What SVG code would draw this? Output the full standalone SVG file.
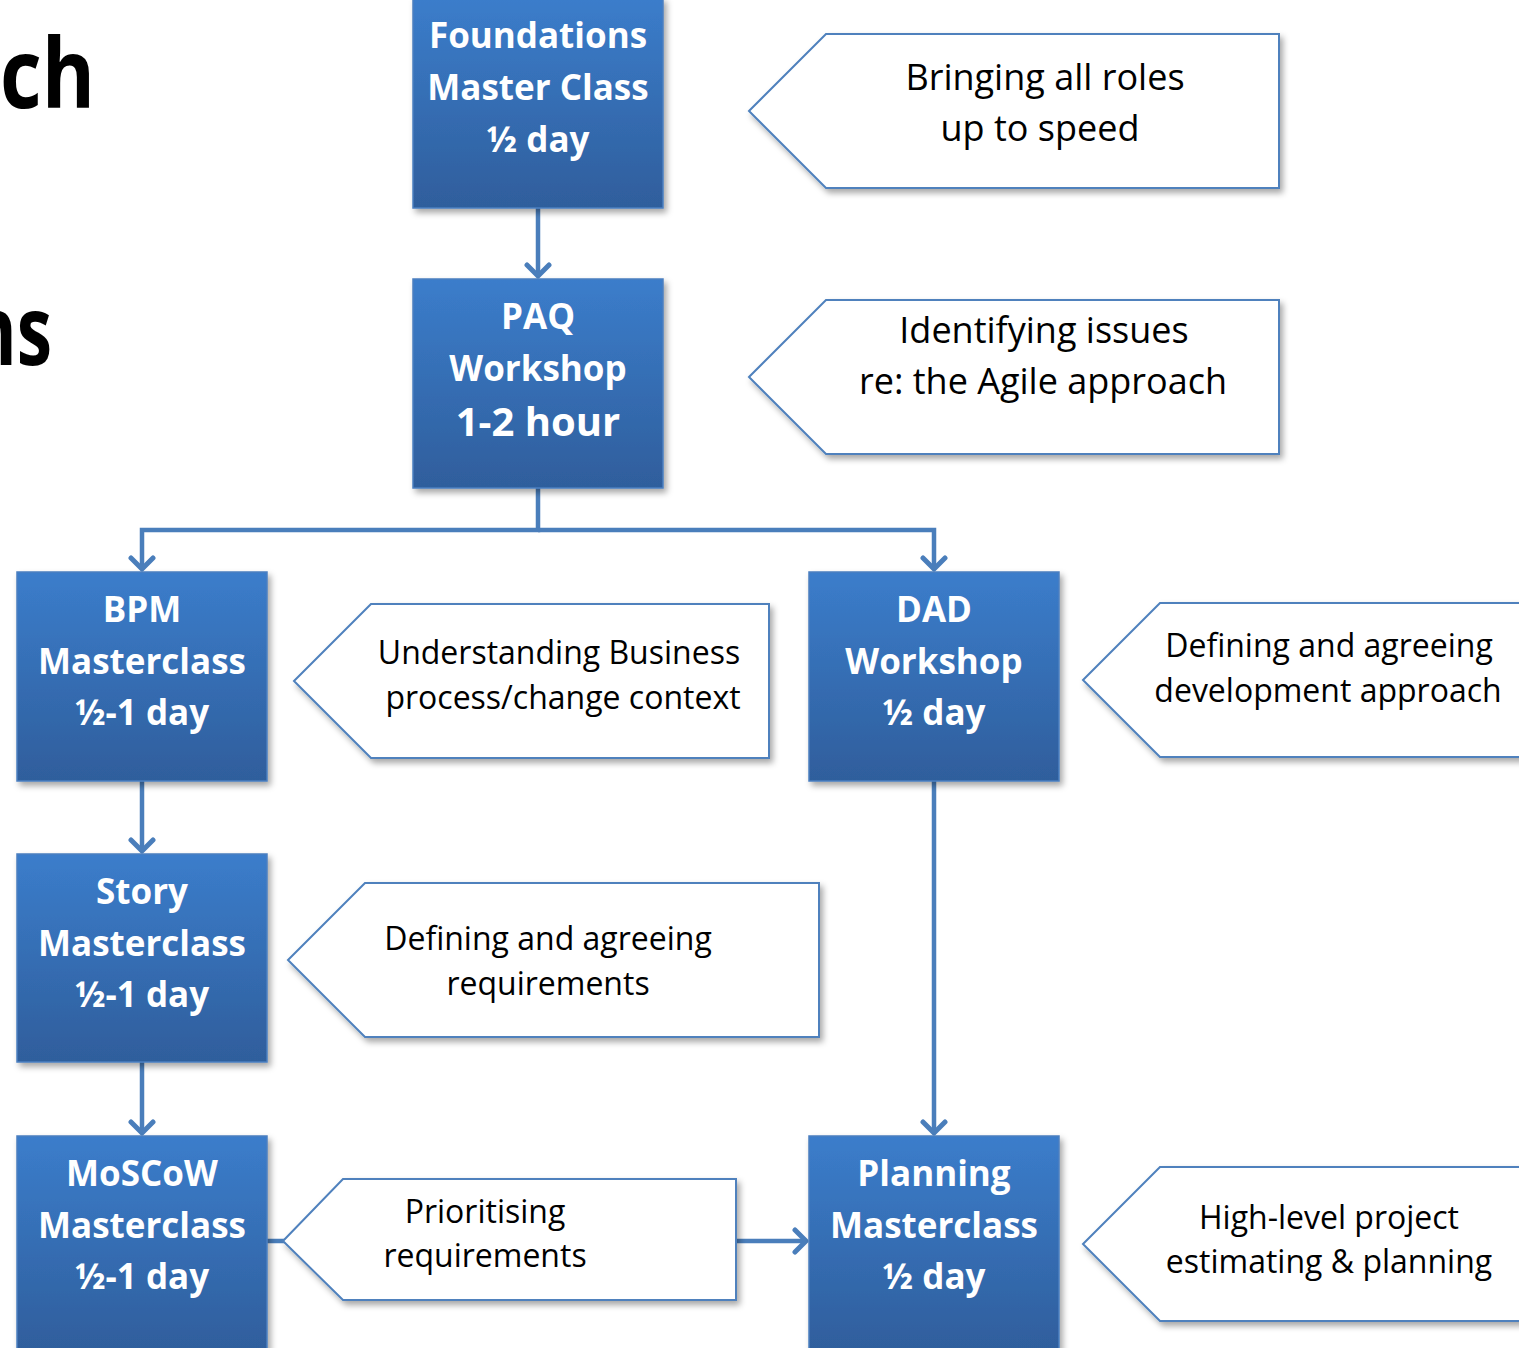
<svg xmlns="http://www.w3.org/2000/svg" width="1519" height="1348" viewBox="0 0 1519 1348">
  <defs>
    <linearGradient id="boxFill" x1="0" y1="0" x2="0" y2="1">
      <stop offset="0" stop-color="#3b7dcb"/>
      <stop offset="1" stop-color="#2f5e9c"/>
    </linearGradient>
    <filter id="shadow" x="-10%" y="-10%" width="125%" height="130%">
      <feDropShadow dx="3" dy="4" stdDeviation="3" flood-color="#000" flood-opacity="0.35"/>
    </filter>
    <marker id="arrow" viewBox="0 0 18 28" refX="14" refY="14" markerWidth="18" markerHeight="28" orient="auto" markerUnits="userSpaceOnUse">
      <path d="M3,3 L14,14 L3,25" fill="none" stroke="#4a7ebb" stroke-width="5" stroke-linecap="round" stroke-linejoin="round"/>
    </marker>
    <style>
      .box { fill: url(#boxFill); stroke: #4b7fc0; stroke-width: 1.5; filter: url(#shadow); }
      .btxt { font-family: "Open Sans", "DejaVu Sans", sans-serif; font-weight: bold; font-size: 35px; fill: #ffffff; text-anchor: middle; }
      .big { font-size: 40px; }
      .call { fill: #ffffff; stroke: #4f81bd; stroke-width: 2; filter: url(#shadow); }
      .ctxt { font-family: "Open Sans", "DejaVu Sans", sans-serif; font-size: 32px; fill: #000000; text-anchor: middle; }
      .ctxt.lg { font-size: 36px; }
      .conn { fill: none; stroke: #4a7ebb; stroke-width: 4.5; }
      .title { font-family: "Open Sans", "Liberation Sans", sans-serif; font-weight: bold; font-size: 96px; fill: #000000; }
    </style>
  </defs>

  <rect width="1519" height="1348" fill="#ffffff"/>

  <!-- heading fragments on the left edge -->
  <text class="title" x="0" y="108" textLength="95" lengthAdjust="spacingAndGlyphs">ch</text>
  <text class="title" x="-30" y="365" textLength="82" lengthAdjust="spacingAndGlyphs">ns</text>

  <!-- connectors -->
  <g id="connectors">
    <path class="conn" d="M538,208 V276" marker-end="url(#arrow)"/>
    <path class="conn" d="M538,488 V530 H142 V569" marker-end="url(#arrow)"/>
    <path class="conn" d="M538,530 H934 V569" marker-end="url(#arrow)"/>
    <path class="conn" d="M142,781 V851" marker-end="url(#arrow)"/>
    <path class="conn" d="M142,1062 V1133" marker-end="url(#arrow)"/>
    <path class="conn" d="M934,781 V1133" marker-end="url(#arrow)"/>
    <path class="conn" d="M267,1241 H806" marker-end="url(#arrow)"/>
  </g>

  <!-- course nodes -->
  <g id="foundations">
    <rect class="box" x="413" y="-2" width="250" height="210"/>
    <text class="btxt" x="538" y="48">Foundations</text>
    <text class="btxt" x="538" y="100">Master Class</text>
    <text class="btxt" x="538" y="152">½ day</text>
  </g>
  <g id="paq">
    <rect class="box" x="413" y="279" width="250" height="209"/>
    <text class="btxt" x="538" y="329">PAQ</text>
    <text class="btxt" x="538" y="381">Workshop</text>
    <text class="btxt big" x="538" y="436">1-2 hour</text>
  </g>
  <g id="bpm">
    <rect class="box" x="17" y="572" width="250" height="209"/>
    <text class="btxt" x="142" y="622">BPM</text>
    <text class="btxt" x="142" y="674">Masterclass</text>
    <text class="btxt" x="142" y="725">½-1 day</text>
  </g>
  <g id="story">
    <rect class="box" x="17" y="854" width="250" height="208"/>
    <text class="btxt" x="142" y="904">Story</text>
    <text class="btxt" x="142" y="956">Masterclass</text>
    <text class="btxt" x="142" y="1007">½-1 day</text>
  </g>
  <g id="moscow">
    <rect class="box" x="17" y="1136" width="250" height="216"/>
    <text class="btxt" x="142" y="1186">MoSCoW</text>
    <text class="btxt" x="142" y="1238">Masterclass</text>
    <text class="btxt" x="142" y="1289">½-1 day</text>
  </g>
  <g id="dad">
    <rect class="box" x="809" y="572" width="250" height="209"/>
    <text class="btxt" x="934" y="622">DAD</text>
    <text class="btxt" x="934" y="674">Workshop</text>
    <text class="btxt" x="934" y="725">½ day</text>
  </g>
  <g id="planning">
    <rect class="box" x="809" y="1136" width="250" height="216"/>
    <text class="btxt" x="934" y="1186">Planning</text>
    <text class="btxt" x="934" y="1238">Masterclass</text>
    <text class="btxt" x="934" y="1289">½ day</text>
  </g>

  <!-- description callouts -->
  <g id="note-foundations">
    <path class="call" d="M749,111 L826,34 H1279 V188 H826 Z"/>
    <text class="ctxt lg" x="1045" y="90">Bringing all roles</text>
    <text class="ctxt lg" x="1040" y="141">up to speed</text>
  </g>
  <g id="note-paq">
    <path class="call" d="M749,377 L826,300 H1279 V454 H826 Z"/>
    <text class="ctxt lg" x="1044" y="343">Identifying issues</text>
    <text class="ctxt lg" x="1043" y="394">re: the Agile approach</text>
  </g>
  <g id="note-bpm">
    <path class="call" d="M294,681 L371,604 H769 V758 H371 Z"/>
    <text class="ctxt" x="559" y="664">Understanding Business</text>
    <text class="ctxt" x="563" y="709">process/change context</text>
  </g>
  <g id="note-dad">
    <path class="call" d="M1083,680 L1160,603 H1530 V757 H1160 Z"/>
    <text class="ctxt" x="1329" y="657">Defining and agreeing</text>
    <text class="ctxt" x="1328" y="702">development approach</text>
  </g>
  <g id="note-story">
    <path class="call" d="M288,960 L365,883 H819 V1037 H365 Z"/>
    <text class="ctxt" x="548" y="950">Defining and agreeing</text>
    <text class="ctxt" x="548" y="995">requirements</text>
  </g>
  <g id="note-moscow">
    <path class="call" d="M283,1241 L343,1179 H736 V1300 H343 Z"/>
    <text class="ctxt" x="485" y="1223">Prioritising</text>
    <text class="ctxt" x="485" y="1267">requirements</text>
  </g>
  <g id="note-planning">
    <path class="call" d="M1083,1244 L1160,1167 H1530 V1321 H1160 Z"/>
    <text class="ctxt" x="1329" y="1229">High-level project</text>
    <text class="ctxt" x="1329" y="1273">estimating &amp; planning</text>
  </g>
</svg>
